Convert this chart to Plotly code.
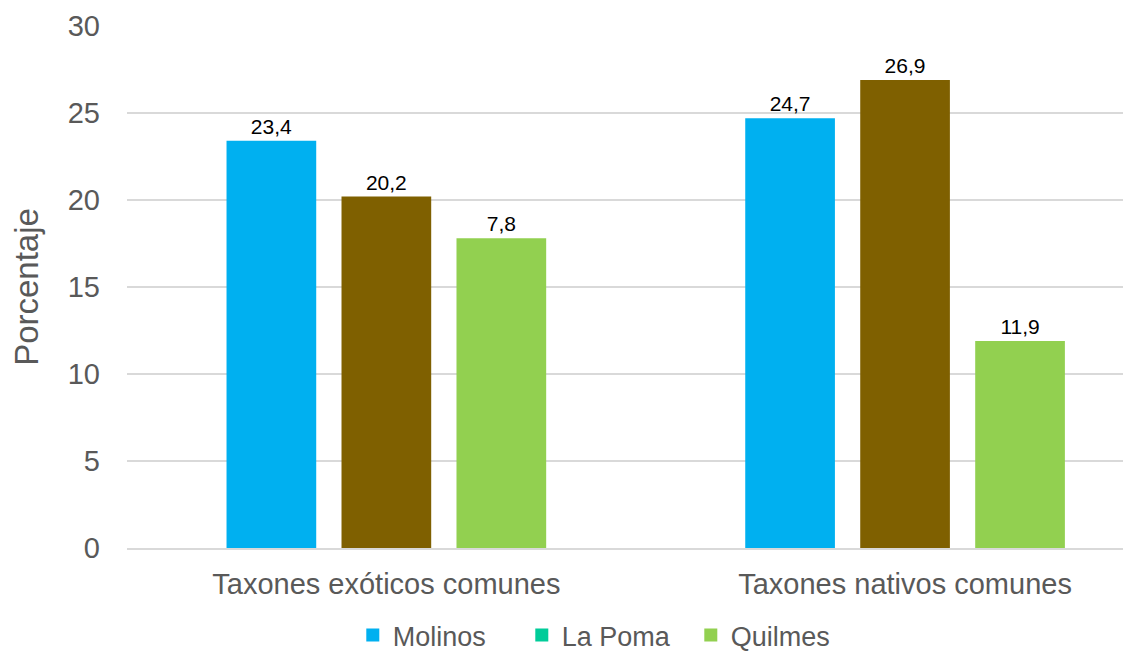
import plotly.graph_objects as go

categories = ["Taxones exóticos comunes", "Taxones nativos comunes"]
series = ["Molinos", "La Poma", "Quilmes"]
molinos = [23.4, 24.7]
la_poma = [20.2, 26.9]
quilmes = [17.8, 11.9]
molinos_labels = ["23,4", "24,7"]
la_poma_labels = ["20,2", "26,9"]
quilmes_labels = ["7,8", "11,9"]
bar_colors = ["#00B0F0", "#7F6000", "#92D050"]
legend_colors = ["#00B0F0", "#00CC99", "#92D050"]
y_ticks = [0, 5, 10, 15, 20, 25, 30]

FONT = "Liberation Sans, Arial, sans-serif"
xpos = list(range(len(categories)))

fig = go.Figure()
for name, vals, labels, col in zip(series, [molinos, la_poma, quilmes],
                                   [molinos_labels, la_poma_labels, quilmes_labels], bar_colors):
    fig.add_trace(go.Bar(
        x=xpos, y=vals, name=name, marker=dict(color=col, line=dict(width=0)),
        text=labels, textposition="outside", cliponaxis=False,
        textfont=dict(family=FONT, size=21, color="#000000"),
        showlegend=False,
    ))
for name, col in zip(series, legend_colors):
    fig.add_trace(go.Scatter(x=[None], y=[None], name=name, mode="markers",
                             marker=dict(color=col, symbol="square", size=13),
                             showlegend=True))

fig.update_layout(
    width=1131, height=657,
    margin=dict(l=119, r=0, t=18, b=117),
    paper_bgcolor="white", plot_bgcolor="white",
    barmode="group", bargap=0.335, bargroupgap=0.22,
    font=dict(family=FONT, color="#595959"),
    showlegend=True,
    legend=dict(orientation="h", xref="container", x=0.529, xanchor="center",
                yref="container", y=0.045, yanchor="middle",
                font=dict(family=FONT, size=27, color="#595959"),
                itemwidth=30, traceorder="normal",
                entrywidth=124, entrywidthmode="pixels"),
)
fig.update_xaxes(
    tickvals=xpos, ticktext=categories, range=[-0.5, 1.451], automargin=False,
    showgrid=False, zeroline=False, showline=True, linecolor="#D9D9D9", linewidth=1.5,
    ticks="", tickfont=dict(family=FONT, size=29, color="#595959"),
    ticklabelstandoff=9,
)
fig.update_yaxes(
    range=[0, 30], tickvals=y_ticks, showgrid=True, gridcolor="#D9D9D9", gridwidth=1.5,
    zeroline=False, ticks="", tickfont=dict(family=FONT, size=29, color="#595959"),
    ticklabelstandoff=26, automargin=False,
    title=dict(text="Porcentaje", font=dict(family=FONT, size=33, color="#595959"), standoff=20),
)
fig.write_html("out.html")
